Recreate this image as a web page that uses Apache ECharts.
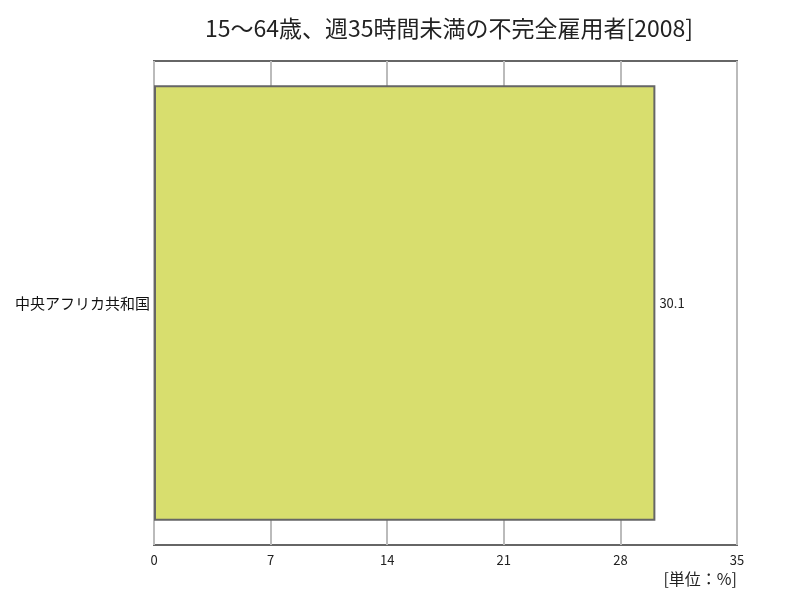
<!DOCTYPE html>
<html><head><meta charset="utf-8">
<script src="https://cdn.jsdelivr.net/npm/echarts@6/dist/echarts.min.js"></script>
<style>html,body{margin:0;padding:0;background:#fff}#c{width:800px;height:600px}</style>
</head><body><div id="c"></div>
<script>
const titleText = '15～64歳、週35時間未満の不完全雇用者[2008]';
const categories = ['中央アフリカ共和国'];
const values = [30.1];
const xTicks = [0, 7, 14, 21, 28, 35];
const unitText = '[単位：%]';

const font = '"Noto Sans CJK JP", "Noto Sans", sans-serif';
const chart = echarts.init(document.getElementById('c'));
chart.setOption({
  animation: false,
  backgroundColor: '#fff',
  title: {
    text: titleText, left: 444, top: 12, textAlign: 'center',
    textStyle: { fontFamily: font, fontSize: 23, fontWeight: 'normal', color: '#222' }
  },
  graphic: [{
    type: 'text', right: 63, top: 571,
    style: { text: unitText, font: '16px ' + font, fill: '#222' }
  }],
  grid: { left: 154, right: 63, top: 61, bottom: 55, show: true, borderColor: '#666', borderWidth: 2, backgroundColor: 'transparent' },
  xAxis: {
    type: 'value', min: xTicks[0], max: xTicks[xTicks.length - 1], interval: 7,
    axisLine: { show: false }, axisTick: { show: false },
    splitLine: { show: true, lineStyle: { color: '#bbb', width: 2 } },
    axisLabel: { fontFamily: font, fontSize: 13, color: '#222', margin: 9 }
  },
  yAxis: {
    type: 'category', data: categories, inverse: true,
    axisLine: { show: false }, axisTick: { show: false },
    axisLabel: { fontFamily: font, fontSize: 15, color: '#111', margin: 4 }
  },
  series: [{
    type: 'bar', data: values, barCategoryGap: '10%',
    itemStyle: { color: '#d8de6e', borderColor: '#666', borderWidth: 2 },
    label: { show: true, position: 'right', distance: 4, fontFamily: font, fontSize: 13, color: '#222' }
  }]
});
</script></body></html>
